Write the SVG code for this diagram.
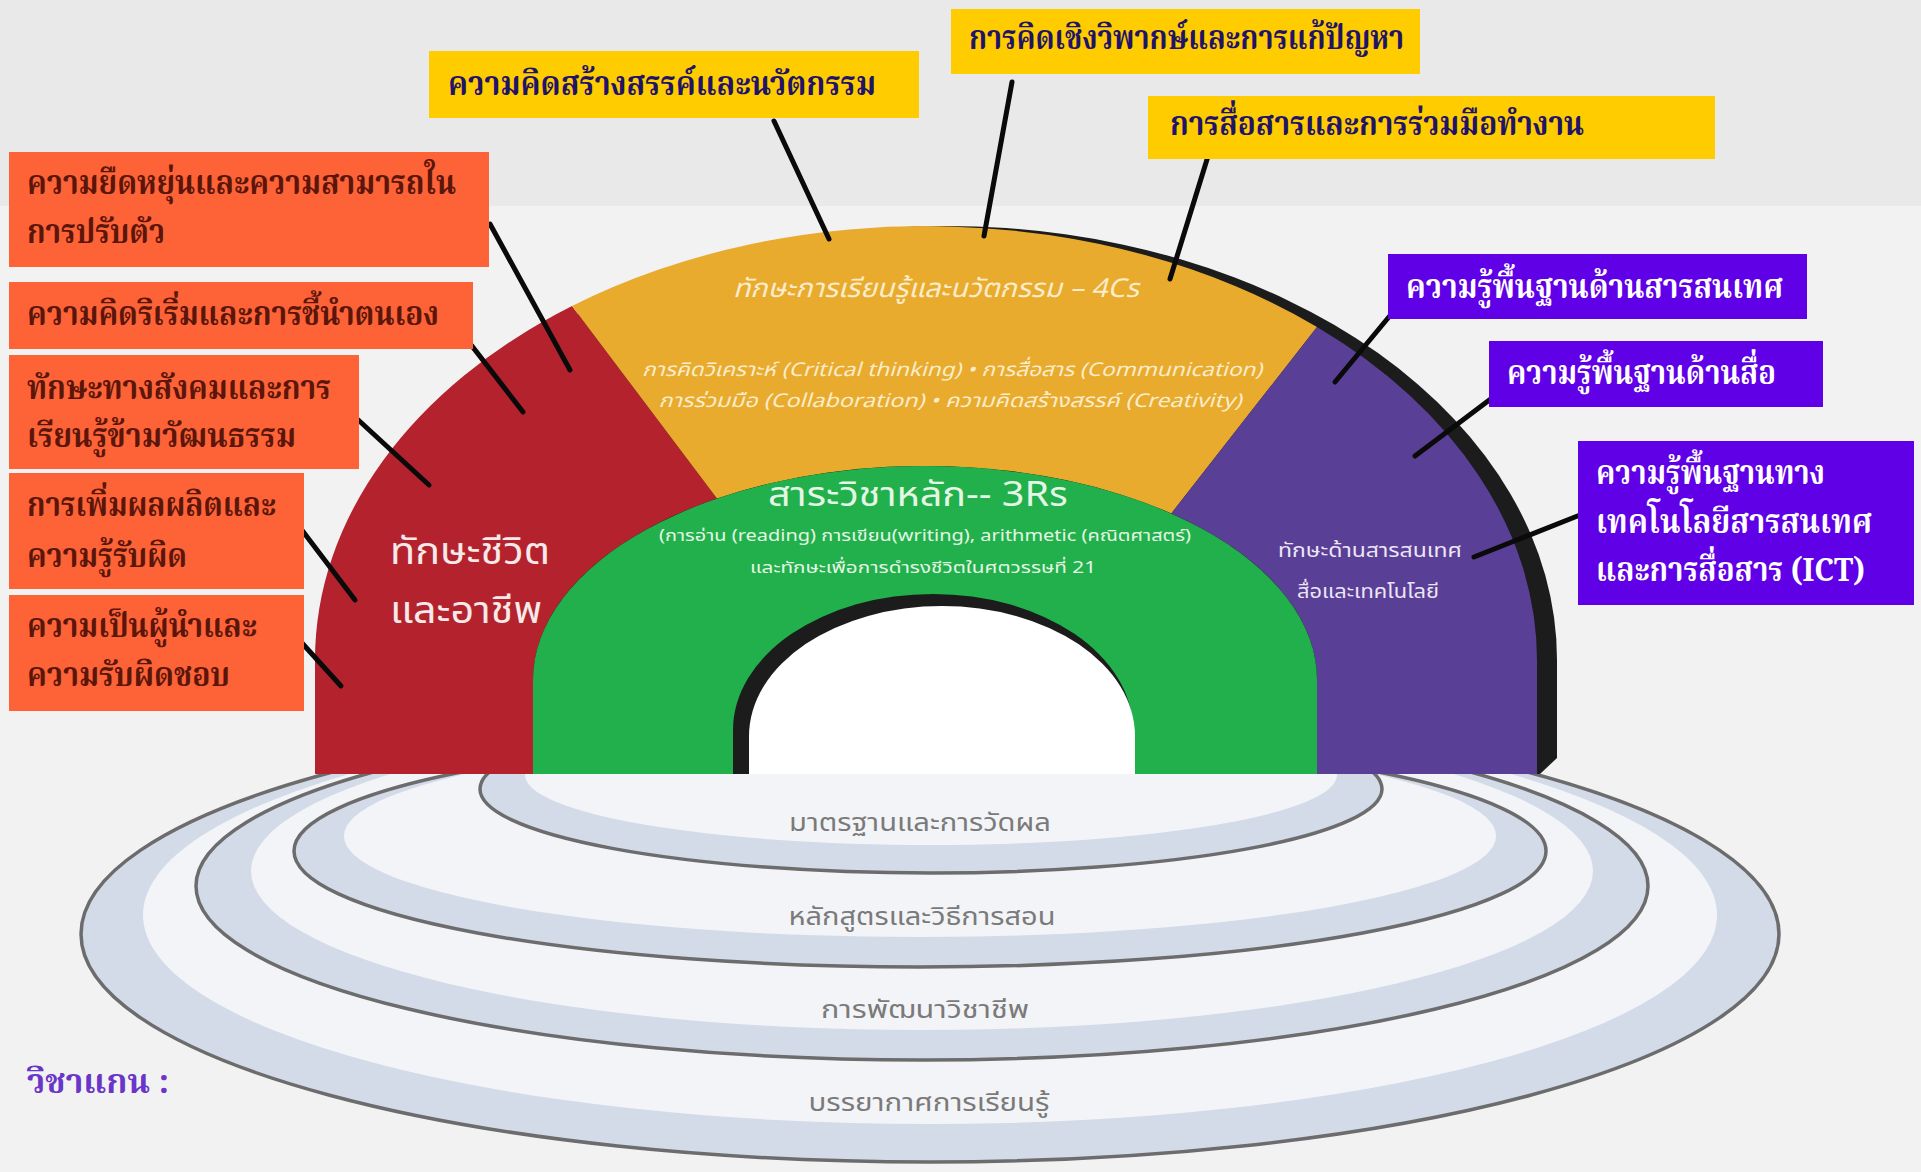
<svg xmlns="http://www.w3.org/2000/svg" width="1921" height="1172" viewBox="0 0 1921 1172">
<defs>
<style>
.lbl{font-family:"Noto Serif Thai","Noto Sans Thai Looped","Noto Sans Thai","DejaVu Sans",serif;font-weight:bold;font-size:33px}
.or{fill:#fe6237}.orT{fill:#5a160b}
.ye{fill:#ffcc00}.yeT{fill:#1f1468}
.pu{fill:#6000e6}.puT{fill:#ffffff}
.sans{font-family:"Noto Sans Thai","Noto Sans","DejaVu Sans",sans-serif}
.ring{fill:#d3dbe9;stroke:#6c6c6c;stroke-width:3.5}
.gap{fill:#f3f4f7}
.con{stroke:#0a0a0a;stroke-width:5;stroke-linecap:round}
</style>
<clipPath id="below"><rect x="0" y="774" width="1921" height="400"/></clipPath>
</defs>
<rect x="0" y="0" width="1921" height="1172" fill="#f2f2f2"/>
<rect x="0" y="0" width="1921" height="206" fill="#e9e9e9"/>

<g id="rings" clip-path="url(#below)">
<ellipse class="ring" cx="930" cy="934" rx="849" ry="228"/>
<ellipse class="gap" cx="930" cy="915" rx="787" ry="209"/>
<ellipse class="ring" cx="922" cy="886" rx="726" ry="174"/>
<ellipse class="gap" cx="922" cy="871" rx="671" ry="159"/>
<ellipse class="ring" cx="920" cy="851" rx="626" ry="116"/>
<ellipse class="gap" cx="920" cy="836" rx="576" ry="101"/>
<ellipse class="ring" cx="931" cy="789" rx="451" ry="84"/>
<ellipse class="gap" cx="931" cy="775" rx="406" ry="70"/>
</g>
<g id="ring-labels" class="sans" font-size="24" fill="#7a7a7a" text-anchor="middle">
<text x="920" y="831" textLength="262" lengthAdjust="spacingAndGlyphs">มาตรฐานและการวัดผล</text>
<text x="922" y="925" textLength="267" lengthAdjust="spacingAndGlyphs">หลักสูตรและวิธีการสอน</text>
<text x="925" y="1018" textLength="208" lengthAdjust="spacingAndGlyphs">การพัฒนาวิชาชีพ</text>
<text x="929" y="1111" textLength="241" lengthAdjust="spacingAndGlyphs">บรรยากาศการเรียนรู้</text>
</g>

<g id="arch">
<path d="M335,774 L335,660 A611,434 0 0 1 1557,660 L1557,758 L1540,774 Z" fill="#1c1c1c"/>
<path id="seg-life" d="M315,774 L315,660 A611,434 0 0 1 572,306 L717,498.5 A392,214 0 0 0 533,680 L533,774 Z" fill="#b4232d"/>
<path id="seg-learn" d="M572,306 A611,434 0 0 1 1317,327 L1171.3,513.4 A392,214 0 0 0 717,498.5 Z" fill="#e8ab2e"/>
<path id="seg-ict" d="M1317,327 A611,434 0 0 1 1537,660 L1537,774 L1317,774 L1317,680 A392,214 0 0 0 1171.3,513.4 Z" fill="#5a3f97"/>
<path id="seg-core" d="M533,774 L533,680 A392,214 0 0 1 1317,680 L1317,774 Z" fill="#21b04b"/>
<path d="M733,774 L733,730 A200,136 0 0 1 1133,730 L1133,774 Z" fill="#1c1c1c"/>
<path d="M749,774 L749,736 A193,130 0 0 1 1135,736 L1135,774 Z" fill="#ffffff"/>
</g>
<g id="arch-labels" class="sans" text-anchor="middle">
<text x="470" y="564" font-size="38" fill="#f6e9e9" textLength="160" lengthAdjust="spacingAndGlyphs">ทักษะชีวิต</text>
<text x="466" y="623" font-size="38" fill="#f6e9e9" textLength="152" lengthAdjust="spacingAndGlyphs">และอาชีพ</text>
<text x="936" y="297" font-size="26" font-style="italic" fill="#fbeccb" textLength="406" lengthAdjust="spacingAndGlyphs">ทักษะการเรียนรู้และนวัตกรรม – 4Cs</text>
<text x="952" y="376" font-size="19" font-style="italic" fill="#fbeccb" textLength="620" lengthAdjust="spacingAndGlyphs">การคิดวิเคราะห์ (Critical thinking) • การสื่อสาร (Communication)</text>
<text x="950" y="407" font-size="19" font-style="italic" fill="#fbeccb" textLength="583" lengthAdjust="spacingAndGlyphs">การร่วมมือ (Collaboration) • ความคิดสร้างสรรค์ (Creativity)</text>
<text x="918" y="506" font-size="34" fill="#e4f6e4" textLength="300" lengthAdjust="spacingAndGlyphs">สาระวิชาหลัก-- 3Rs</text>
<text x="925" y="541" font-size="16" fill="#e4f6e4" textLength="532" lengthAdjust="spacingAndGlyphs">(การอ่าน (reading) การเขียน(writing), arithmetic (คณิตศาสตร์)</text>
<text x="923" y="573" font-size="16" fill="#e4f6e4" textLength="346" lengthAdjust="spacingAndGlyphs">และทักษะเพื่อการดำรงชีวิตในศตวรรษที่ 21</text>
<text x="1370" y="557" font-size="19" fill="#ece6f5" textLength="184" lengthAdjust="spacingAndGlyphs">ทักษะด้านสารสนเทศ</text>
<text x="1368" y="598" font-size="19" fill="#ece6f5" textLength="142" lengthAdjust="spacingAndGlyphs">สื่อและเทคโนโลยี</text>
</g>

<g id="connectors">
<line class="con" x1="490" y1="224" x2="570" y2="370"/>
<line class="con" x1="441" y1="306" x2="523" y2="412"/>
<line class="con" x1="355" y1="417" x2="429" y2="485"/>
<line class="con" x1="292" y1="517" x2="355" y2="600"/>
<line class="con" x1="292" y1="632" x2="341" y2="686"/>
<line class="con" x1="774" y1="121" x2="829" y2="239"/>
<line class="con" x1="1012" y1="82" x2="984" y2="236"/>
<line class="con" x1="1209" y1="153" x2="1170" y2="279"/>
<line class="con" x1="1393" y1="312" x2="1335" y2="382"/>
<line class="con" x1="1492" y1="398" x2="1415" y2="456"/>
<line class="con" x1="1580" y1="515" x2="1474" y2="557"/>
</g>

<g id="n-flex"><rect class="or" x="9" y="152" width="480" height="115"/>
<text class="lbl orT" x="27" y="194" textLength="429" lengthAdjust="spacingAndGlyphs">ความยืดหยุ่นและความสามารถใน</text>
<text class="lbl orT" x="27" y="243" textLength="138" lengthAdjust="spacingAndGlyphs">การปรับตัว</text></g>
<g id="n-init"><rect class="or" x="9" y="282" width="464" height="67"/>
<text class="lbl orT" x="27" y="325" textLength="412" lengthAdjust="spacingAndGlyphs">ความคิดริเริ่มและการชี้นำตนเอง</text></g>
<g id="n-social"><rect class="or" x="9" y="355" width="350" height="114"/>
<text class="lbl orT" x="27" y="399" font-size="31" textLength="304" lengthAdjust="spacingAndGlyphs">ทักษะทางสังคมและการ</text>
<text class="lbl orT" x="27" y="447" font-size="31" textLength="269" lengthAdjust="spacingAndGlyphs">เรียนรู้ข้ามวัฒนธรรม</text></g>
<g id="n-prod"><rect class="or" x="9" y="473" width="295" height="116"/>
<text class="lbl orT" x="27" y="516" textLength="249" lengthAdjust="spacingAndGlyphs">การเพิ่มผลผลิตและ</text>
<text class="lbl orT" x="27" y="567" textLength="160" lengthAdjust="spacingAndGlyphs">ความรู้รับผิด</text></g>
<g id="n-lead"><rect class="or" x="9" y="595" width="295" height="116"/>
<text class="lbl orT" x="27" y="637" textLength="230" lengthAdjust="spacingAndGlyphs">ความเป็นผู้นำและ</text>
<text class="lbl orT" x="27" y="686" textLength="203" lengthAdjust="spacingAndGlyphs">ความรับผิดชอบ</text></g>

<g id="n-create"><rect class="ye" x="429" y="51" width="490" height="67"/>
<text class="lbl yeT" x="448" y="95" textLength="428" lengthAdjust="spacingAndGlyphs">ความคิดสร้างสรรค์และนวัตกรรม</text></g>
<g id="n-critical"><rect class="ye" x="951" y="9" width="469" height="65"/>
<text class="lbl yeT" x="969" y="49" textLength="435" lengthAdjust="spacingAndGlyphs">การคิดเชิงวิพากษ์และการแก้ปัญหา</text></g>
<g id="n-comm"><rect class="ye" x="1148" y="96" width="567" height="63"/>
<text class="lbl yeT" x="1170" y="135" textLength="414" lengthAdjust="spacingAndGlyphs">การสื่อสารและการร่วมมือทำงาน</text></g>

<g id="n-info"><rect class="pu" x="1388" y="254" width="419" height="65"/>
<text class="lbl puT" x="1406" y="298" textLength="377" lengthAdjust="spacingAndGlyphs">ความรู้พื้นฐานด้านสารสนเทศ</text></g>
<g id="n-media"><rect class="pu" x="1489" y="341" width="334" height="66"/>
<text class="lbl puT" x="1507" y="384" textLength="269" lengthAdjust="spacingAndGlyphs">ความรู้พื้นฐานด้านสื่อ</text></g>
<g id="n-ict"><rect class="pu" x="1578" y="441" width="336" height="164"/>
<text class="lbl puT" x="1596" y="484" textLength="229" lengthAdjust="spacingAndGlyphs">ความรู้พื้นฐานทาง</text>
<text class="lbl puT" x="1596" y="533" textLength="276" lengthAdjust="spacingAndGlyphs">เทคโนโลยีสารสนเทศ</text>
<text class="lbl puT" x="1596" y="581" textLength="269" lengthAdjust="spacingAndGlyphs">และการสื่อสาร (ICT)</text></g>

<g id="n-core"><text class="lbl" x="27" y="1093" fill="#6a35c9" font-size="34" textLength="142" lengthAdjust="spacingAndGlyphs">วิชาแกน :</text></g>
</svg>
